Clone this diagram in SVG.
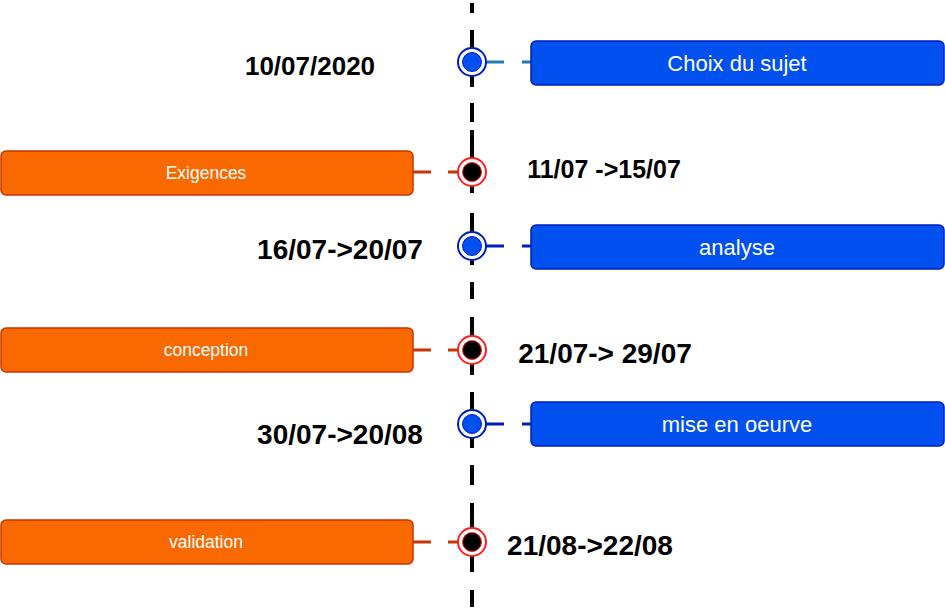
<svg xmlns="http://www.w3.org/2000/svg" width="945" height="612" viewBox="0 0 945 612">
<style>
.bbox{fill:#0050EF;stroke:#001DBC;stroke-width:1.5}
.obox{fill:#FA6800;stroke:#C73500;stroke-width:1.5}
.btxt{font-family:"Liberation Sans",Arial,sans-serif;font-size:22px;fill:#ffffff;text-anchor:middle}
.otxt{font-family:"Liberation Sans",Arial,sans-serif;font-size:17.5px;fill:#ffffff;text-anchor:middle}
.date{font-family:"Liberation Sans",Arial,sans-serif;font-size:28px;font-weight:bold;fill:#000000;text-anchor:middle}
.ring-b{fill:#ffffff;stroke:#001DBC;stroke-width:2}
.dot-b{fill:#0050EF;stroke:#001DBC;stroke-width:1}
.ring-r{fill:#ffffff;stroke:#FF2020;stroke-width:2}
.dot-r{fill:#000000;stroke:#FF2020;stroke-width:1}
.axis{stroke:#000000;stroke-width:4;fill:none}
.cb{stroke:#001DBC;stroke-width:3;fill:none}
.ct{stroke:#1A7CB5;stroke-width:3;fill:none}
.cr{stroke:#C73500;stroke-width:3;fill:none}
</style>
<rect width="945" height="612" fill="#ffffff"/>
<g id="connectors">
<path class="axis" d="M472,3V13M472,30V48M472,76V87M472,103V122M472,130V158M472,186V193M472,213V232M472,260V265M472,282V299M472,317V336M472,364V375M472,392V410M472,438V448M472,465V485M472,503V528M472,556V572M472,590V607"/>
<path class="ct" d="M486,62H504M522,62H531"/>
<path class="cb" d="M486,246H504M522,246H531"/>
<path class="cb" d="M486,424H504M522,424H531"/>
<path class="cr" d="M413,172H431M448,172H458"/>
<path class="cr" d="M413,350H431M448,350H458"/>
<path class="cr" d="M413,542H431M448,542H458"/>
</g>
<g id="m1"><circle class="ring-b" cx="472" cy="62" r="14"/><circle class="dot-b" cx="472" cy="62" r="9.5"/></g>
<g id="m2"><circle class="ring-r" cx="472" cy="172" r="14"/><circle class="dot-r" cx="472" cy="172" r="9.5"/></g>
<g id="m3"><circle class="ring-b" cx="472" cy="246" r="14"/><circle class="dot-b" cx="472" cy="246" r="9.5"/></g>
<g id="m4"><circle class="ring-r" cx="472" cy="350" r="14"/><circle class="dot-r" cx="472" cy="350" r="9.5"/></g>
<g id="m5"><circle class="ring-b" cx="472" cy="424" r="14"/><circle class="dot-b" cx="472" cy="424" r="9.5"/></g>
<g id="m6"><circle class="ring-r" cx="472" cy="542" r="14"/><circle class="dot-r" cx="472" cy="542" r="9.5"/></g>
<g id="choix"><rect class="bbox" x="531" y="41" width="413" height="44" rx="5"/><text class="btxt" x="737" y="71">Choix du sujet</text></g>
<g id="analyse"><rect class="bbox" x="531" y="225" width="413" height="44" rx="5"/><text class="btxt" x="737" y="255">analyse</text></g>
<g id="mise"><rect class="bbox" x="531" y="402" width="413" height="44" rx="5"/><text class="btxt" x="737" y="432">mise en oeurve</text></g>
<g id="exigences"><rect class="obox" x="1" y="151" width="412" height="44" rx="5"/><text class="otxt" x="206" y="179">Exigences</text></g>
<g id="conception"><rect class="obox" x="1" y="328" width="412" height="44" rx="5"/><text class="otxt" x="206" y="356">conception</text></g>
<g id="validation"><rect class="obox" x="1" y="520" width="412" height="44" rx="5"/><text class="otxt" x="206" y="548">validation</text></g>
<g id="d1"><text class="date" x="310" y="75" style="font-size:26px">10/07/2020</text></g>
<g id="d2"><text class="date" x="604" y="178" style="font-size:25px">11/07 -&gt;15/07</text></g>
<g id="d3"><text class="date" x="340" y="259">16/07-&gt;20/07</text></g>
<g id="d4"><text class="date" x="605" y="363">21/07-&gt; 29/07</text></g>
<g id="d5"><text class="date" x="340" y="444">30/07-&gt;20/08</text></g>
<g id="d6"><text class="date" x="590" y="555">21/08-&gt;22/08</text></g>
</svg>
